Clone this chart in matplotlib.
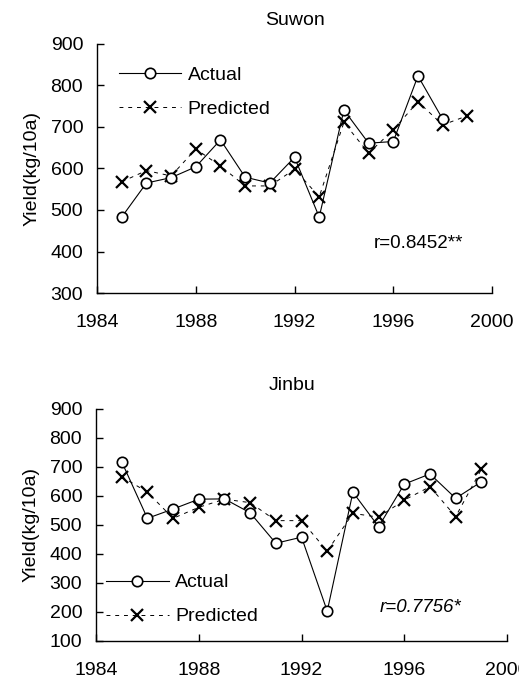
import matplotlib
matplotlib.use('Agg')
import matplotlib.pyplot as plt

plt.rcParams['font.family'] = ['Liberation Sans', 'DejaVu Sans']

# Suwon yields (kg/10a)
suwon_years_act = list(range(1985, 1999))
suwon_actual = [483, 565, 578, 604, 669, 579, 565, 627, 483, 741, 661, 665, 823, 719]
suwon_years_pred = list(range(1985, 2000))
suwon_pred = [568, 595, 582, 647, 606, 558, 558, 598, 532, 711, 637, 693, 761, 705, 727]

# Jinbu yields (kg/10a)
jinbu_years = list(range(1985, 2000))
jinbu_actual = [718, 523, 555, 589, 590, 542, 437, 458, 203, 613, 494, 641, 676, 592, 649]
jinbu_pred = [667, 613, 523, 561, 589, 577, 515, 515, 410, 540, 527, 586, 632, 529, 692]

xticks = [1984, 1988, 1992, 1996, 2000]


def panel(ax, xa, ya, xp, yp, ylo, title, title_x, rtext, r_italic, r_pos, leg_pos):
    ax.plot(xa, ya, color='k', lw=0.8, marker='o', ms=7.5, mfc='white',
            mec='k', mew=1.2, label='Actual', zorder=3)
    ax.plot(xp, yp, color='k', lw=0.7, ls=(0, (4, 5)), marker='x', ms=8.5,
            mew=1.6, label='Predicted', zorder=2)
    ax.set_xlim(1984, 2000)
    ax.set_ylim(ylo, 900)
    ax.set_xticks(xticks)
    ax.set_yticks(range(ylo, 901, 100))
    ax.spines['top'].set_visible(False)
    ax.spines['right'].set_visible(False)
    ax.spines['left'].set_linewidth(1.0)
    ax.spines['bottom'].set_linewidth(1.0)
    ax.tick_params(axis='both', direction='in', length=5, width=1.0)
    ax.tick_params(axis='x', pad=15, labelsize=14)
    ax.tick_params(axis='y', pad=10, labelsize=14)
    ax.set_ylabel('Yield(kg/10a)', fontsize=14, labelpad=7)
    ax.set_title(title, fontsize=14, x=title_x, pad=14)
    ax.text(r_pos[0], r_pos[1], rtext, transform=ax.transAxes, fontsize=13.5,
            style='italic' if r_italic else 'normal', va='center')
    ax.legend(loc='upper left', bbox_to_anchor=leg_pos, frameon=False,
              fontsize=14, handlelength=3.2, handletextpad=0.35,
              labelspacing=0.85, borderpad=0, borderaxespad=0)


fig = plt.figure(figsize=(5.19, 6.83), dpi=100)
ax1 = fig.add_axes([0.187, 0.571, 0.761, 0.3646])
ax2 = fig.add_axes([0.185, 0.0615, 0.792, 0.3397])

panel(ax1, suwon_years_act, suwon_actual, suwon_years_pred, suwon_pred, 300,
      'Suwon', 0.5, 'r=0.8452**', False, (0.70, 0.20), (0.055, 0.91))
panel(ax2, jinbu_years, jinbu_actual, jinbu_years, jinbu_pred, 100,
      'Jinbu', 0.477, 'r=0.7756*', True, (0.69, 0.145), (0.025, 0.29))

plt.savefig('out.png', dpi=100)
plt.close()
